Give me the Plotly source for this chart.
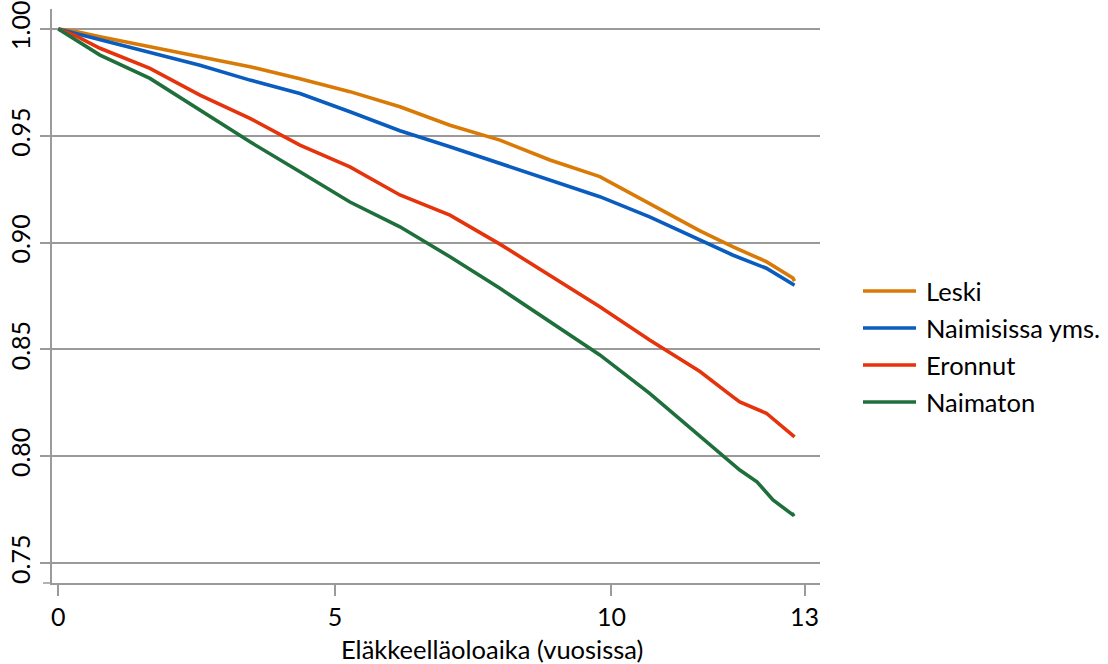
import plotly.graph_objects as go

# Survival by marital status over years since retirement
leski_t = [0, 0.30, 0.754, 1.657, 2.561, 3.465, 4.368, 5.272, 6.176, 7.08, 7.983,
           8.887, 9.79, 10.69, 11.6, 12.19, 12.8, 13.28, 13.31]
leski_s = [1.0, 0.999, 0.9964, 0.9917, 0.9867, 0.9824, 0.9767, 0.9707, 0.9636, 0.955,
           0.948, 0.9387, 0.9309, 0.9184, 0.9055, 0.8981, 0.8911, 0.8834, 0.882]

naim_t = [0, 0.30, 0.754, 1.657, 2.561, 3.465, 4.368, 5.272, 6.176, 7.08, 7.983,
          8.887, 9.79, 10.69, 11.6, 12.19, 12.8, 13.28, 13.31]
naim_s = [1.0, 0.998, 0.9952, 0.9889, 0.9831, 0.9761, 0.9698, 0.9613, 0.9524, 0.9449,
          0.9371, 0.9293, 0.9215, 0.9121, 0.901, 0.8942, 0.888, 0.8805, 0.880]

eronnut_t = [0, 0.30, 0.754, 1.657, 2.561, 3.465, 4.368, 5.272, 6.176, 7.08, 7.983,
             8.887, 9.79, 10.69, 11.6, 12.19, 12.32, 12.8, 13.28, 13.31]
eronnut_s = [1.0, 0.997, 0.991, 0.9816, 0.9691, 0.9582, 0.9457, 0.9355, 0.9223, 0.9129,
             0.8993, 0.8848, 0.870, 0.8544, 0.8396, 0.8279, 0.8254, 0.8201, 0.81, 0.809]

naimaton_t = [0, 0.30, 0.754, 1.657, 2.561, 3.465, 4.368, 5.272, 6.176, 7.08, 7.983,
              8.887, 9.79, 10.69, 11.6, 12.32, 12.63, 12.92, 13.28, 13.31]
naimaton_s = [1.0, 0.995, 0.9878, 0.9769, 0.9621, 0.9472, 0.9332, 0.919, 0.9074, 0.8934,
              0.8786, 0.863, 0.8474, 0.8294, 0.8091, 0.7935, 0.788, 0.7795, 0.7725, 0.773]

series_names = ["Leski", "Naimisissa yms.", "Eronnut", "Naimaton"]
series_colors = ["#D97A06", "#0A5CBF", "#E5330C", "#1F6F3C"]

y_tick_vals = [0.75, 0.80, 0.85, 0.90, 0.95, 1.00]
x_tick_vals = [0, 5, 10, 13.49]
x_tick_text = ["0", "5", "10", "13"]

FONT = "Lato"
GRID = "#9A9A9A"

fig = go.Figure()
for t, s, name, color in zip(
    [leski_t, naim_t, eronnut_t, naimaton_t],
    [leski_s, naim_s, eronnut_s, naimaton_s],
    series_names, series_colors,
):
    fig.add_trace(go.Scatter(x=t, y=s, mode="lines", name=name,
                             line=dict(color=color, width=3.6),
                             showlegend=False))

# Legend drawn as line samples with labels to the right of the plot
legend_y_px = [291, 328, 365, 402]
plot_top, plot_bottom, plot_left, plot_right = 9, 583, 52, 820
ph = plot_bottom - plot_top
pw = plot_right - plot_left
for name, color, ypx in zip(series_names, series_colors, legend_y_px):
    yp = (plot_bottom - ypx) / ph
    fig.add_shape(type="line", xref="paper", yref="paper",
                  x0=(863 - plot_left) / pw, x1=(916 - plot_left) / pw, y0=yp, y1=yp,
                  line=dict(color=color, width=3.6))
    fig.add_annotation(xref="paper", yref="paper", x=(924 - plot_left) / pw, y=yp,
                       xanchor="left", yanchor="middle", text=name, showarrow=False,
                       font=dict(family=FONT, size=25.5, color="#000000"))

# x axis line extension to the left of the y axis
fig.add_shape(type="line", xref="paper", yref="paper",
              x0=(43 - plot_left) / pw, x1=0, y0=0, y1=0,
              line=dict(color=GRID, width=1.5))

fig.add_annotation(xref="paper", yref="paper", x=(492 - plot_left) / pw,
                   y=(plot_bottom - 649) / ph, xanchor="center", yanchor="middle",
                   text="Eläkkeelläoloaika (vuosissa)", showarrow=False,
                   font=dict(family=FONT, size=25.5, color="#000000"))

fig.update_layout(
    width=1108, height=664,
    margin=dict(l=plot_left, r=1108 - plot_right, t=plot_top, b=664 - plot_bottom,
                autoexpand=False),
    paper_bgcolor="white", plot_bgcolor="white",
    font=dict(family=FONT, color="#000000"),
    xaxis=dict(range=[-0.114, 13.77], tickvals=x_tick_vals, ticktext=x_tick_text,
               automargin=False,
               showgrid=False, zeroline=False, showline=True, linecolor=GRID,
               linewidth=1.5, ticks="outside", ticklen=11, tickcolor=GRID,
               tickwidth=1.5, tickfont=dict(family=FONT, size=25, color="#000000")),
    yaxis=dict(range=[0.7406, 1.0094], tickvals=y_tick_vals, tickformat=".2f",
               automargin=False,
               tickangle=-90, showgrid=True, gridcolor=GRID, gridwidth=1.5,
               zeroline=False, showline=True, linecolor=GRID, linewidth=1.5,
               ticks="outside", ticklen=10, tickcolor=GRID, tickwidth=1.5,
               tickfont=dict(family=FONT, size=25, color="#000000")),
)

fig.write_html("out.html")
